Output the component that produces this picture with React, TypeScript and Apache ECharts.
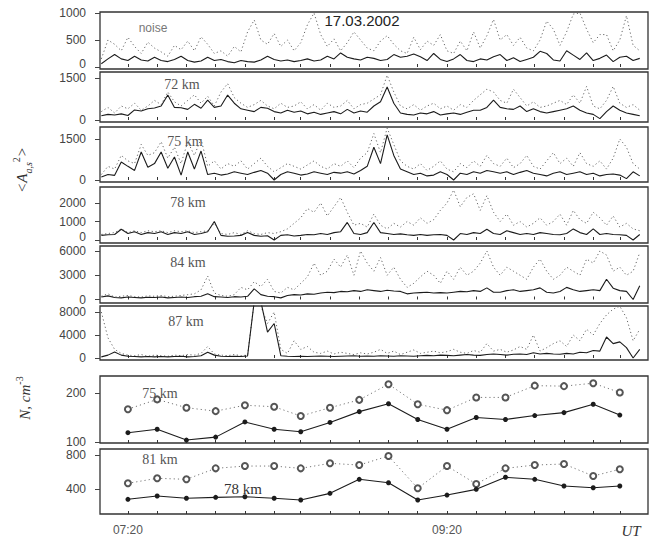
import React, { useEffect, useRef } from "react";
import * as echarts from "echarts";

// ---- time base (minutes of the day, UT) ----
const T_START = 430; // 07:10
const T_STEP = 2.5; // minutes between samples of the amplitude records
const nTimes = [440, 451, 462, 473, 484, 495, 505, 516, 527, 538, 549, 560, 571, 582, 593, 604, 615, 625];
const xTickTimes = [440, 560];
const xTickLabels = ["07:20", "09:20"];

// ---- y tick labels ----
const noiseTicks = [0, 500, 1000];
const km72Ticks = [0, 1500];
const km75Ticks = [0, 1500];
const km78Ticks = [0, 1000, 2000];
const km84Ticks = [0, 3000, 6000];
const km87Ticks = [0, 4000, 8000];
const n75Ticks = [100, 200];
const n81Ticks = [400, 800];

// ---- <A^2> records (solid = signal, dotted = second record) ----
const noiseSolid = [
  60, 150, 230, 150, 120, 200, 130, 110, 180, 120,
  100, 140, 200, 120, 90, 110, 180, 120, 140, 100,
  80, 120, 100, 90, 130, 200, 140, 110, 130, 100,
  120, 150, 110, 130, 200, 150, 260, 180, 150, 130,
  180, 160, 120, 140, 230, 180, 200, 240, 190, 120,
  250, 140, 100, 150, 230, 120, 100, 150, 130, 190,
  230, 120, 170, 100, 140, 180, 290, 250, 130, 110,
  300, 220, 140, 260, 120, 160, 220, 100, 180, 200,
  120, 160,
];
const noiseDotted = [
  150, 500, 420, 300, 550, 380, 250, 460, 350, 280,
  200, 400, 320, 480, 300, 560, 420, 250, 300, 200,
  380, 280, 650, 870, 500, 420, 620, 380, 500, 300,
  450, 780, 1000, 600, 380, 520, 300, 450, 650, 500,
  350, 300, 480, 580, 420, 300, 250, 550, 320, 480,
  400, 600, 300, 250, 480, 300, 650, 350, 580, 880,
  500, 600, 400, 550, 350, 300, 500, 850, 700, 400,
  650, 980, 1000, 700, 450, 600, 600, 300, 500, 950,
  400, 300,
];
const km72Solid = [
  150, 200, 180, 220, 160, 360, 320, 400, 430, 500,
  890, 450, 440, 380, 560, 420, 710, 450, 500, 890,
  600, 400, 350, 300, 450, 420, 300, 250, 350, 280,
  320, 220, 280, 200, 250, 300, 220, 380, 250, 320,
  280, 500, 650, 1180, 600, 250, 200, 180, 250, 220,
  300, 180, 220, 250, 200, 280, 350, 350, 450, 710,
  450, 400, 380, 500, 300, 400, 300, 250, 300, 350,
  400, 500, 350, 250, 200, 50, 300, 500, 350, 250,
  200, 150,
];
const km72Dotted = [
  300, 450, 250, 500, 400, 600, 350, 500, 700, 550,
  1000, 650, 500, 700, 900, 600, 850, 500, 1000, 1300,
  800, 600, 450, 550, 700, 500, 400, 600, 450, 500,
  650, 400, 550, 350, 600, 450, 500, 700, 400, 550,
  600, 750, 900, 1600, 1000, 500, 400, 550, 350, 500,
  600, 400, 500, 350, 550, 450, 700, 900, 1100, 1000,
  700, 600, 1100, 800, 500, 650, 450, 500, 600, 700,
  550, 900, 600, 1200, 500, 400, 700, 1200, 600, 450,
  550, 350,
];
const km75Solid = [
  110, 200, 170, 660, 500, 350, 1025, 470, 600, 1025,
  430, 840, 180, 1025, 400, 1060, 200, 250, 180, 220,
  300, 250, 200, 280, 350, 250, 0, 200, 300, 250,
  180, 220, 300, 250, 200, 280, 250, 300, 220, 350,
  500, 1200, 600, 1650, 900, 400, 300, 200, 250, 150,
  180, 300, 200, 0, 250, 200, 300, 250, 350, 300,
  250, 300, 200, 280, 350, 250, 200, 150, 250, 300,
  200, 250, 300, 200, 250, 150, 200, 220, 180, 50,
  300, 150,
];
const km75Dotted = [
  200, 500, 400, 900, 700, 600, 1300, 900, 1000, 1400,
  800, 1200, 600, 1400, 900, 1500, 500, 700, 400, 600,
  500, 700, 400, 600, 800, 500, 300, 450, 600, 500,
  400, 550, 700, 500, 400, 600, 500, 700, 450, 800,
  1000, 1700, 1000, 1900, 1300, 700, 500, 400, 600, 350,
  500, 700, 400, 300, 600, 450, 700, 500, 900, 600,
  500, 800, 450, 600, 900, 500, 400, 700, 1000, 600,
  800, 500, 1000, 600, 500, 700, 400, 800, 1500, 1200,
  600, 400,
];
const km78Solid = [
  250, 280, 300, 580, 350, 450, 300, 400, 350, 450,
  300, 400, 350, 450, 300, 350, 450, 1000, 250, 200,
  220, 250, 400, 250, 200, 230, 0, 250, 280, 220,
  250, 300, 280, 350, 300, 400, 450, 950, 350, 300,
  400, 950, 400, 350, 300, 330, 280, 250, 300, 250,
  280, 300, 250, 0, 350, 300, 400, 350, 580, 350,
  300, 500, 400, 300, 350, 300, 400, 350, 300, 280,
  350, 600, 400, 300, 600, 300, 350, 300, 280, 250,
  0, 300,
];
const km78Dotted = [
  300, 350, 400, 600, 400, 500, 400, 500, 450, 500,
  400, 500, 450, 500, 400, 450, 500, 900, 350, 300,
  400, 300, 500, 350, 300, 400, 350, 450, 600, 900,
  1200, 1700, 1500, 2000, 1300, 1800, 2300, 1500, 800, 900,
  700, 1400, 800, 600, 900, 700, 1000, 800, 1200, 900,
  1100, 1600, 2000, 2700, 1800, 2300, 2500, 1600, 2400, 1500,
  1000, 1400, 800, 1000, 700, 900, 1200, 800, 1000, 1400,
  800, 1600, 1100, 900, 1500, 1200, 800, 1300, 700, 900,
  600, 500,
];
const km84Solid = [
  300, 450, 250, 200, 300, 250, 200, 280, 250, 300,
  200, 250, 300, 250, 350, 400, 720, 350, 300, 250,
  350, 300, 400, 1320, 600, 400, 350, 200, 500, 600,
  550, 700, 650, 800, 900, 850, 1000, 950, 1100, 1000,
  1200, 1100, 1000, 1150, 1050, 1000, 700, 800, 850, 900,
  800, 850, 800, 900, 1000, 950, 1100, 1000, 1440, 900,
  900, 1100, 1200, 1000, 1100, 1200, 1440, 900, 800, 1000,
  1500, 1200, 1000, 1100, 1200, 1100, 2500, 1400, 1100, 1000,
  0, 1700,
];
const km84Dotted = [
  400, 700, 300, 400, 500, 350, 300, 450, 400, 500,
  350, 400, 500, 600, 700, 1200, 2900, 800, 500, 400,
  600, 1500, 1200, 2200, 1600, 2500, 1000, 800, 1500, 1200,
  2000, 2800, 4500, 3000, 3500, 5000, 4000, 5500, 3000, 6000,
  4500, 3500, 5200, 3000, 4000, 2500, 1500, 2000, 2800, 3500,
  3000, 2000, 3500, 2500, 4000, 3000, 3500, 4500, 6000, 4000,
  3000, 4000, 3500, 3000, 2500, 4000, 5000, 3500, 2500, 3000,
  4000, 3500, 3000, 5000, 4500, 6000, 5500, 3500, 4000, 3000,
  3500, 5800,
];
const km87Solid = [
  200, 500, 1050, 500, 300, 250, 200, 250, 200, 250,
  200, 250, 300, 200, 250, 400, 1000, 500, 300, 250,
  300, 250, 350, 9800, 9800, 4500, 6000, 400, 300, 250,
  300, 250, 300, 350, 300, 250, 300, 350, 400, 300,
  350, 300, 400, 350, 300, 400, 350, 300, 400, 450,
  400, 500, 450, 400, 500, 600, 500, 450, 600, 700,
  600, 500, 650, 700, 600, 900, 700, 800, 700, 650,
  800, 700, 1000, 900, 1300, 1200, 3650, 2500, 2800, 1800,
  0, 1500,
];
const km87Dotted = [
  8000, 3500, 1500, 800, 500, 400, 600, 300, 500, 400,
  300, 500, 400, 600, 500, 800, 2000, 700, 500, 400,
  600, 400, 500, 9800, 9000, 6000, 8000, 1500, 800, 3000,
  1500, 2000, 1000, 800, 1200, 700, 1000, 800, 600, 900,
  700, 1000, 1500, 800, 1200, 600, 1000, 1400, 800, 1000,
  1200, 900, 1100, 1500, 1000, 800, 1300, 1000, 2500, 1200,
  1500, 1000, 1400, 2000, 1500, 4000, 1200, 1800, 2500, 3000,
  2000, 4000, 3000, 5000, 4000, 6000, 7500, 8500, 9000, 7000,
  3000, 5000,
];

// ---- electron density N, cm^-3 ----
const n75Solid = [119, 126, 104, 110, 141, 126, 121, 140, 162, 178, 146, 126, 150, 146, 154, 160, 177, 155];
const n75Open = [167, 187, 170, 163, 175, 172, 153, 170, 186, 218, 177, 165, 191, 191, 215, 214, 220, 201];
const n78Solid = [279, 318, 291, 302, 309, 291, 271, 349, 514, 474, 271, 329, 396, 538, 514, 435, 415, 435];
const n81Open = [467, 526, 514, 643, 670, 670, 643, 702, 682, 788, 408, 670, 459, 643, 682, 694, 553, 632];

// ---- layout / styles ----
const X_MIN = 429.5;
const X_MAX = 635.6;
const GRID_LEFT = 100;
const GRID_WIDTH = 548;
const LINE = "#1c1c1c";
const DOTC = "#666";
const LABEL_FONT = "'Liberation Sans', Arial, sans-serif";
const SERIF = "'Liberation Serif', 'DejaVu Serif', serif";

const panels = [
  { solid: noiseSolid, dotted: noiseDotted, ticks: noiseTicks, top: 12, height: 57, min: -37, max: 1018, liftZero: true },
  { solid: km72Solid, dotted: km72Dotted, ticks: km72Ticks, top: 72, height: 50, min: -71, max: 1714, liftZero: false },
  { solid: km75Solid, dotted: km75Dotted, ticks: km75Ticks, top: 127, height: 55, min: -73, max: 1939, liftZero: false },
  { solid: km78Solid, dotted: km78Dotted, ticks: km78Ticks, top: 187, height: 56, min: -162, max: 2865, liftZero: true },
  { solid: km84Solid, dotted: km84Dotted, ticks: km84Ticks, top: 246, height: 57, min: -433, max: 6619, liftZero: false },
  { solid: km87Solid, dotted: km87Dotted, ticks: km87Ticks, top: 306, height: 54, min: -348, max: 9044, liftZero: false },
];
const nPanels = [
  { solid: n75Solid, open: n75Open, ticks: n75Ticks, top: 376, height: 67, min: 98, max: 234.7, liftZero: false },
  { solid: n78Solid, open: n81Open, ticks: n81Ticks, top: 449, height: 65, min: 106, max: 870.6, liftZero: false },
];

function buildOption() {
  const grid: any[] = [];
  const xAxis: any[] = [];
  const yAxis: any[] = [];
  const series: any[] = [];
  const all = [...panels, ...nPanels];
  const total = all.length;

  all.forEach((p, k) => {
    grid.push({
      left: GRID_LEFT,
      width: GRID_WIDTH,
      top: p.top,
      height: p.height,
      show: true,
      borderColor: "#333",
      borderWidth: 1.3,
      backgroundColor: "transparent",
    });
    const isLast = k === total - 1;
    xAxis.push({
      gridIndex: k,
      type: "value",
      min: X_MIN,
      max: X_MAX,
      axisLine: { show: false },
      splitLine: { show: false },
      axisTick: {
        show: true,
        inside: true,
        length: 3,
        customValues: nTimes,
        lineStyle: { color: "#333", width: 1 },
      },
      axisLabel: isLast
        ? {
            show: true,
            customValues: xTickTimes,
            formatter: (v: number) => xTickLabels[xTickTimes.indexOf(v)] ?? "",
            margin: 10,
            color: "#555",
            fontSize: 12,
            fontFamily: LABEL_FONT,
          }
        : { show: false },
    });
    yAxis.push({
      gridIndex: k,
      type: "value",
      min: p.min,
      max: p.max,
      axisLine: { show: false },
      splitLine: { show: false },
      axisTick: {
        show: true,
        inside: false,
        length: 5,
        customValues: p.ticks,
        lineStyle: { color: "#444", width: 1 },
      },
      axisLabel: {
        show: true,
        customValues: p.ticks,
        formatter: (v: number) => (p.liftZero && v === 0 ? "{up|0}" : String(v)),
        margin: 14,
        color: "#444",
        fontSize: 12,
        fontFamily: LABEL_FONT,
        rich: {
          up: {
            fontSize: 12,
            fontFamily: LABEL_FONT,
            color: "#444",
            padding: [0, 0, 7, 0],
          },
        },
      },
    });
  });

  panels.forEach((p, k) => {
    series.push({
      type: "line",
      xAxisIndex: k,
      yAxisIndex: k,
      data: p.dotted.map((v, i) => [T_START + i * T_STEP, v]),
      symbol: "none",
      silent: true,
      lineStyle: { color: DOTC, width: 1, type: [1.2, 2.6] },
    });
    series.push({
      type: "line",
      xAxisIndex: k,
      yAxisIndex: k,
      data: p.solid.map((v, i) => [T_START + i * T_STEP, v]),
      symbol: "none",
      silent: true,
      lineStyle: { color: LINE, width: 1.1 },
    });
  });

  nPanels.forEach((p, j) => {
    const k = panels.length + j;
    series.push({
      type: "line",
      xAxisIndex: k,
      yAxisIndex: k,
      data: p.open.map((v, i) => [nTimes[i], v]),
      symbol: "emptyCircle",
      symbolSize: 6,
      silent: true,
      itemStyle: { color: "#555", borderColor: "#555", borderWidth: 1 },
      lineStyle: { color: "#777", width: 1, type: [1.2, 3] },
    });
    series.push({
      type: "line",
      xAxisIndex: k,
      yAxisIndex: k,
      data: p.solid.map((v, i) => [nTimes[i], v]),
      symbol: "circle",
      symbolSize: 5,
      silent: true,
      itemStyle: { color: LINE },
      lineStyle: { color: LINE, width: 1.1 },
    });
  });

  const kmText = (text: string, x: number, y: number, size = 14, color = "#555") => ({
    type: "text",
    x,
    y,
    silent: true,
    style: {
      text,
      fill: color,
      font: `${size}px ${SERIF}`,
      textAlign: "center",
      textVerticalAlign: "middle",
    },
  });

  const graphic = [
    {
      type: "text",
      x: 362,
      y: 20,
      silent: true,
      style: {
        text: "17.03.2002",
        fill: "#222",
        font: `15px ${LABEL_FONT}`,
        textAlign: "center",
        textVerticalAlign: "middle",
      },
    },
    {
      type: "text",
      x: 153,
      y: 28,
      silent: true,
      style: {
        text: "noise",
        fill: "#777",
        font: `12px ${LABEL_FONT}`,
        textAlign: "center",
        textVerticalAlign: "middle",
      },
    },
    kmText("72 km", 182, 84),
    kmText("75 km", 185, 141),
    kmText("78 km", 188, 202),
    kmText("84 km", 188, 262),
    kmText("87 km", 186, 321),
    kmText("75 km", 160, 393),
    kmText("81 km", 160, 459),
    kmText("78 km", 243, 489, 15, "#333"),
    {
      type: "text",
      x: 22,
      y: 170,
      rotation: Math.PI / 2,
      silent: true,
      style: {
        text: "{m|<A}{sub|a,s}{sup|2}{m|>}",
        fill: "#333",
        textAlign: "center",
        textVerticalAlign: "middle",
        rich: {
          m: { fontSize: 15, fontStyle: "italic", fontFamily: SERIF, fill: "#333", lineHeight: 22 },
          sub: { fontSize: 10, fontStyle: "italic", fontFamily: SERIF, fill: "#333", verticalAlign: "bottom", lineHeight: 22 },
          sup: { fontSize: 10, fontFamily: SERIF, fill: "#333", verticalAlign: "top", lineHeight: 22 },
        },
      },
    },
    {
      type: "text",
      x: 25,
      y: 398,
      rotation: Math.PI / 2,
      silent: true,
      style: {
        text: "{m|N, cm}{sup|-3}",
        fill: "#333",
        textAlign: "center",
        textVerticalAlign: "middle",
        rich: {
          m: { fontSize: 15, fontStyle: "italic", fontFamily: SERIF, fill: "#333", lineHeight: 22 },
          sup: { fontSize: 10, fontFamily: SERIF, fill: "#333", verticalAlign: "top", lineHeight: 22 },
        },
      },
    },
    {
      type: "text",
      x: 631,
      y: 531,
      silent: true,
      style: {
        text: "UT",
        fill: "#333",
        font: `italic 15px ${SERIF}`,
        textAlign: "center",
        textVerticalAlign: "middle",
      },
    },
  ];

  return {
    animation: false,
    backgroundColor: "#ffffff",
    grid,
    xAxis,
    yAxis,
    series,
    graphic,
  };
}

export default function App() {
  const ref = useRef<HTMLDivElement>(null);
  useEffect(() => {
    if (!ref.current) return;
    const chart = echarts.init(ref.current, undefined, { renderer: "svg" });
    chart.setOption(buildOption() as any);
    return () => chart.dispose();
  }, []);
  return (
    <div
      ref={ref}
      style={{ position: "absolute", left: 0, top: 0, width: 664, height: 546, background: "#fff" }}
    />
  );
}
